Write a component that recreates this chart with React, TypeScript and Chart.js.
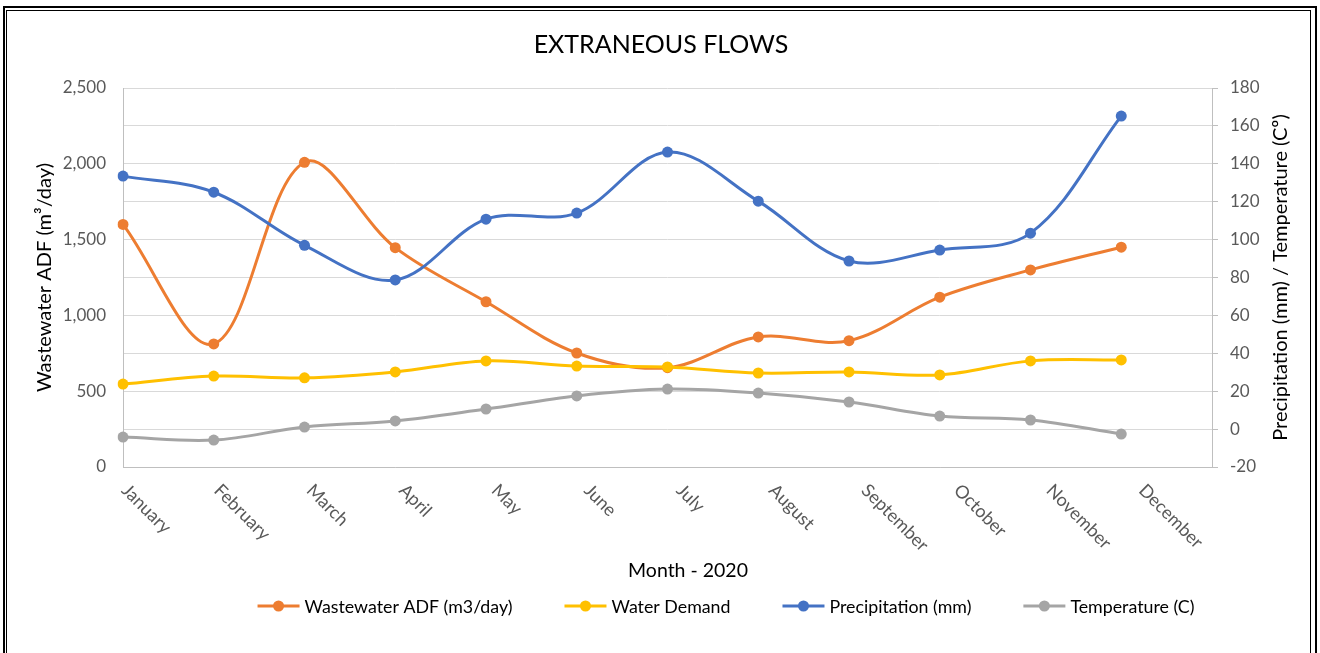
import React, { useEffect, useRef } from 'react';
import { Chart, registerables } from 'chart.js';

Chart.register(...registerables);

const months = ['January', 'February', 'March', 'April', 'May', 'June', 'July', 'August', 'September', 'October', 'November', 'December'];
const wastewater = [1600, 812, 2010, 1447, 1090, 752, 655, 858, 833, 1120, 1300, 1450];
const waterDemand = [547, 600, 588, 627, 700, 666, 660, 620, 627, 607, 700, 706];
const precipitation = [133.5, 125, 97, 78.7, 110.8, 114, 146.2, 120.3, 88.7, 94.5, 103.4, 165.2];
const temperature = [-4.2, -5.8, 1.1, 4.3, 10.6, 17.5, 21.1, 19, 14.3, 6.9, 4.8, -2.6];

const chartTitle = 'EXTRANEOUS FLOWS';
const xTitle = 'Month - 2020';
const leftTitle = 'Wastewater ADF (m³/day)';
const rightTitle = 'Precipitation (mm) / Temperature (Cº)';

const seriesNames = ['Wastewater ADF (m3/day)', 'Water Demand', 'Precipitation (mm)', 'Temperature (C)'];
const colors = ['#ED7D31', '#FFC000', '#4472C4', '#A5A5A5'];

const FONT = 'Lato, "Open Sans", sans-serif';

const overlay = {
  id: 'overlay',
  afterDraw(chart: any) {
    const ctx = chart.ctx;
    const x = chart.scales.x;
    const area = chart.chartArea;
    ctx.save();
    // title
    ctx.fillStyle = '#000';
    ctx.font = `25px ${FONT}`;
    ctx.textAlign = 'center';
    ctx.textBaseline = 'middle';
    ctx.fillText(chartTitle, 661, 45);
    // right axis title (reads bottom to top)
    ctx.save();
    ctx.font = `20px ${FONT}`;
    ctx.translate(1281, (area.top + area.bottom) / 2);
    ctx.rotate(-Math.PI / 2);
    ctx.fillText(rightTitle, 0, 0);
    ctx.restore();
    // x tick labels rotated down-right
    ctx.fillStyle = '#595959';
    ctx.font = `18px ${FONT}`;
    ctx.textAlign = 'left';
    ctx.textBaseline = 'top';
    const x0 = x.getPixelForValue(0);
    months.forEach((m, i) => {
      const px = x0 + (x.getPixelForValue(i) - x0) * 1.019;
      ctx.save();
      ctx.translate(px + 8, 481);
      ctx.rotate(Math.PI / 4);
      ctx.fillText(m, 0, 0);
      ctx.restore();
    });
    // x title
    ctx.fillStyle = '#000';
    ctx.font = `19.5px ${FONT}`;
    ctx.textAlign = 'center';
    ctx.textBaseline = 'middle';
    ctx.fillText(xTitle, 688, 571);
    // legend
    ctx.font = `17.8px ${FONT}`;
    const markerW = 42;
    const gapText = 5;
    const gapItem = 52;
    const widths = seriesNames.map((n) => ctx.measureText(n).width);
    const total = widths.reduce((a, w) => a + markerW + gapText + w, 0) + gapItem * (seriesNames.length - 1);
    let lx = 726 - total / 2;
    const ly = 606;
    seriesNames.forEach((n, i) => {
      ctx.strokeStyle = colors[i];
      ctx.lineWidth = 3;
      ctx.beginPath();
      ctx.moveTo(lx, ly);
      ctx.lineTo(lx + markerW, ly);
      ctx.stroke();
      ctx.fillStyle = colors[i];
      ctx.beginPath();
      ctx.arc(lx + markerW / 2, ly, 5.5, 0, Math.PI * 2);
      ctx.fill();
      ctx.fillStyle = '#000';
      ctx.textAlign = 'left';
      ctx.fillText(n, lx + markerW + gapText, ly + 1);
      lx += markerW + gapText + widths[i] + gapItem;
    });
    ctx.restore();
  },
};

export default function App() {
  const ref = useRef<HTMLCanvasElement>(null);
  useEffect(() => {
    if (!ref.current) return;
    const mk = (label: string, data: number[], i: number, axis: string) => ({
      label,
      data,
      yAxisID: axis,
      borderColor: colors[i],
      backgroundColor: colors[i],
      borderWidth: 3,
      pointRadius: 5.5,
      pointHoverRadius: 5.5,
      pointBorderWidth: 0,
      tension: 0.35,
      fill: false,
    });
    const chart = new Chart(ref.current, {
      type: 'line',
      data: {
        labels: [...months, ''],
        datasets: [
          mk(seriesNames[3], temperature, 3, 'y1'),
          mk(seriesNames[2], precipitation, 2, 'y1'),
          mk(seriesNames[1], waterDemand, 1, 'y'),
          mk(seriesNames[0], wastewater, 0, 'y'),
        ],
      },
      options: {
        responsive: false,
        animation: false,
        devicePixelRatio: 1,
        layout: { padding: { top: 88, left: 0, right: 0, bottom: 0 } },
        plugins: { legend: { display: false }, title: { display: false }, tooltip: { enabled: false } },
        scales: {
          x: {
            type: 'category',
            offset: false,
            grid: { display: false },
            border: { display: true, color: '#BFBFBF', width: 1 },
            ticks: { display: false },
            afterFit: (s: any) => { s.height = 653 - 467; },
          },
          y: {
            position: 'left',
            min: 0,
            max: 2500,
            ticks: {
              stepSize: 500,
              color: '#595959',
              font: { family: FONT, size: 17 },
              padding: 17,
              callback: (v: any) => Number(v).toLocaleString('en-US'),
            },
            grid: { drawOnChartArea: false, drawTicks: false },
            border: { display: true, color: '#BFBFBF', width: 1 },
            title: { display: true, text: leftTitle, color: '#000', font: { family: FONT, size: 20 }, padding: { top: 33, bottom: 0 } },
            afterFit: (s: any) => { s.width = 123; },
          },
          y1: {
            position: 'right',
            min: -20,
            max: 180,
            ticks: {
              stepSize: 20,
              color: '#595959',
              font: { family: FONT, size: 17 },
              padding: 12,
            },
            grid: { color: '#D9D9D9', lineWidth: 1, drawOnChartArea: true, drawTicks: true, tickLength: 6, tickColor: '#BFBFBF' },
            border: { display: true, color: '#BFBFBF', width: 1 },
            title: { display: false },
            afterFit: (s: any) => { s.width = 1320 - 1212; },
          },
        },
      },
      plugins: [overlay],
    });
    return () => chart.destroy();
  }, []);
  return (
    <div style={{ position: 'fixed', left: 0, top: 0, width: 1320, height: 653, background: '#fff', overflow: 'hidden' }}>
      <div style={{ position: 'absolute', left: 3, top: 6, width: 1310, height: 700, border: '2px solid #000' }} />
      <div style={{ position: 'absolute', left: 6, top: 10, width: 1303, height: 700, border: '1px solid #000' }} />
      <canvas ref={ref} width={1320} height={653} style={{ position: 'absolute', left: 0, top: 0 }} />
    </div>
  );
}
